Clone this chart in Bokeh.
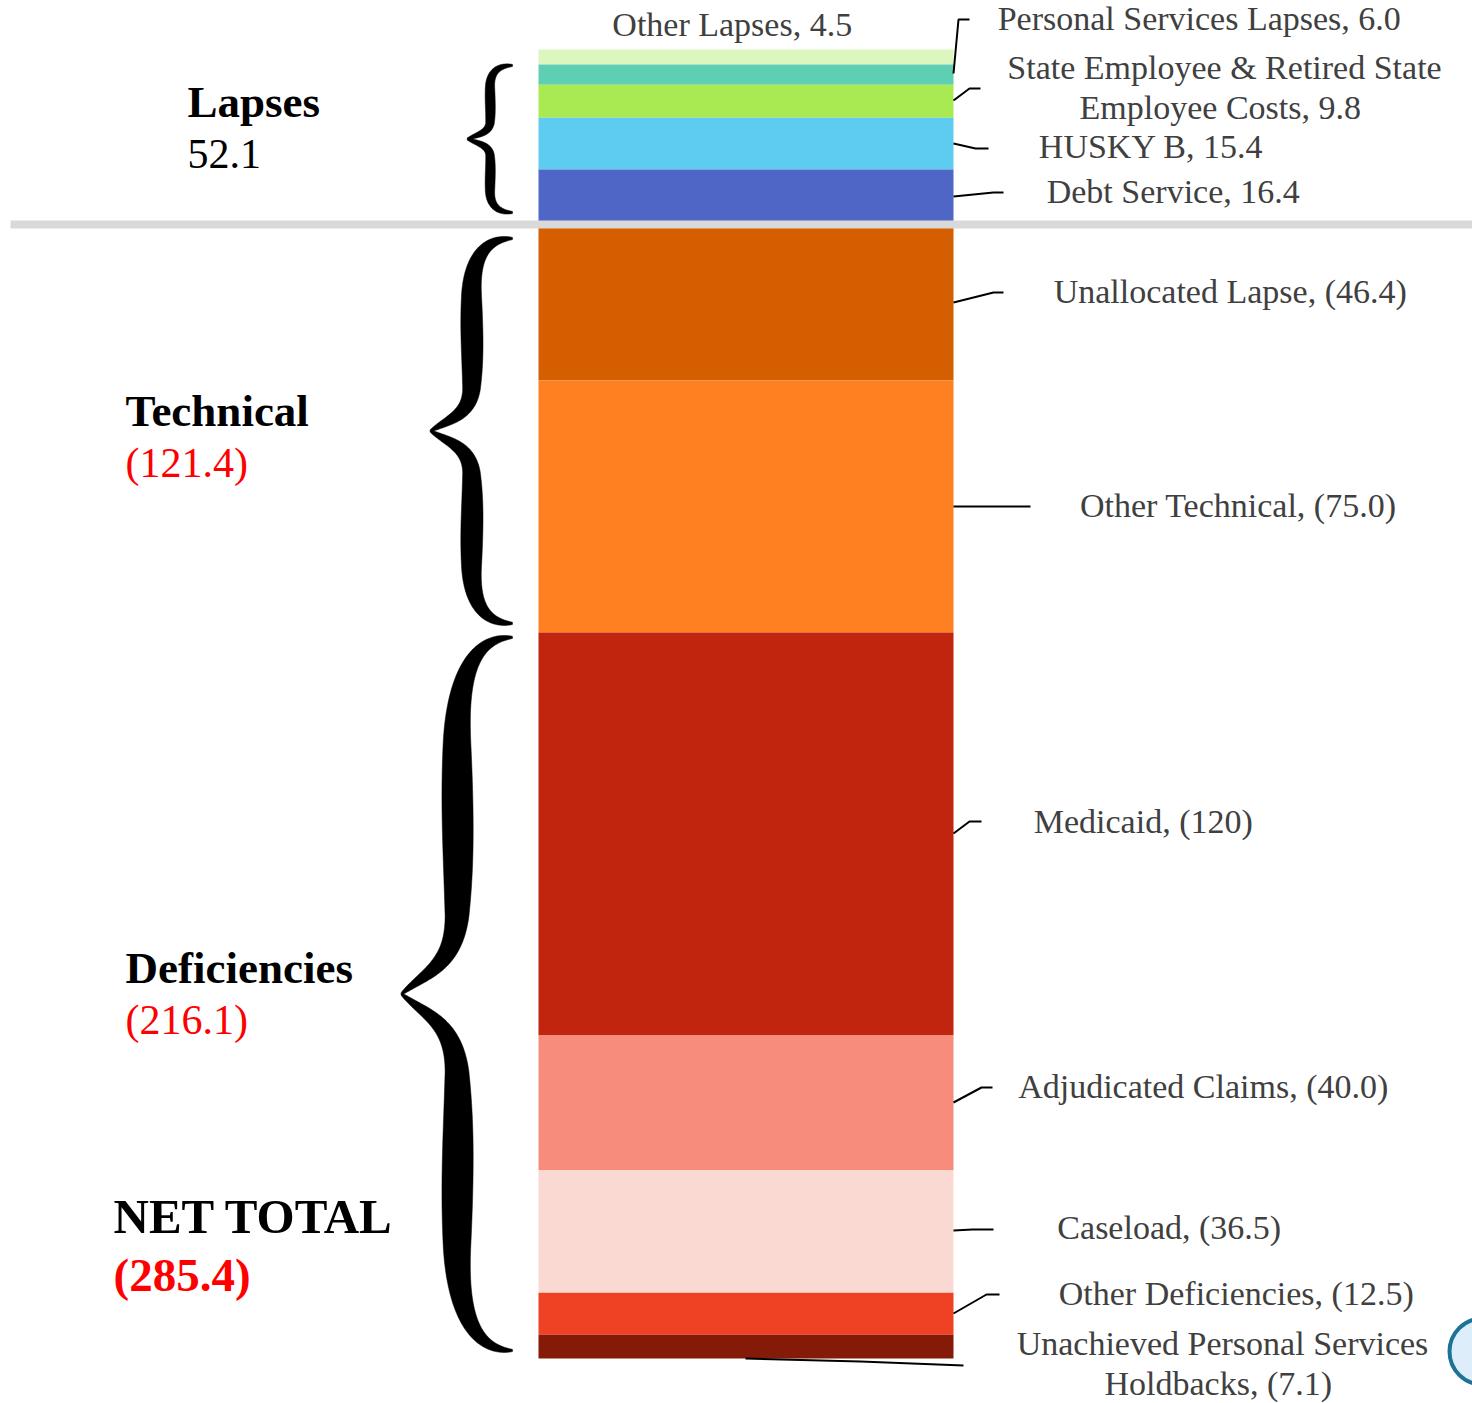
import numpy as np
from bokeh.plotting import figure
from bokeh.models import Range1d, ColumnDataSource
from bokeh.core.properties import value
from bokeh.embed import file_html
from bokeh.resources import INLINE

# ---------------- data ----------------
categories = ["Other Lapses", "Personal Services Lapses",
              "State Employee & Retired State\nEmployee Costs", "HUSKY B", "Debt Service",
              "Unallocated Lapse", "Other Technical",
              "Medicaid", "Adjudicated Claims", "Caseload", "Other Deficiencies",
              "Unachieved Personal Services\nHoldbacks"]
values = [4.5, 6.0, 9.8, 15.4, 16.4, -46.4, -75.0, -120.0, -40.0, -36.5, -12.5, -7.1]
value_labels = ["4.5", "6.0", "9.8", "15.4", "16.4", "(46.4)", "(75.0)", "(120)",
                "(40.0)", "(36.5)", "(12.5)", "(7.1)"]
groups = ["Lapses"] * 5 + ["Technical"] * 2 + ["Deficiencies"] * 5
group_names = ["Lapses", "Technical", "Deficiencies"]
group_value_labels = ["52.1", "(121.4)", "(216.1)"]
net_total_name = "NET TOTAL"
net_total_label = "(285.4)"

# ---------------- styles / layout ----------------
colors = ["#dbf6be", "#5ecfb2", "#a9ea52", "#5ecbf0", "#4f66c7",
          "#d55e00", "#fe8020",
          "#c2250e", "#f78c7c", "#fbd9d3", "#ef4124", "#861a08"]

SCALE = 3.36      # reference px per unit
Y0 = 224.0        # reference px of the zero line
W_IMG, H_IMG = 1472, 1403
PW, PH = 1472, 1403
BASE_K = 0.35     # baseline correction (fraction of font size)

def iy(py):
    return (Y0 - np.asarray(py, dtype=float)) / SCALE

def ty_(py, fs):
    return float(iy(py - BASE_K * fs))

BAR_L, BAR_R = 538, 953
FONT = value("Liberation Serif")

p = figure(width=PW, height=PH, x_range=Range1d(0, W_IMG),
           y_range=Range1d(iy(H_IMG), iy(0)),
           output_backend="svg", toolbar_location=None, min_border=0,
           x_axis_location=None, y_axis_location=None)
p.grid.visible = False
p.outline_line_color = None
p.background_fill_color = "white"
p.border_fill_color = "white"

# ---------------- stacked bar ----------------
bottoms, tops = [0.0] * len(values), [0.0] * len(values)
cum = 0.0
for i in reversed([i for i, v in enumerate(values) if v > 0]):
    bottoms[i] = cum
    tops[i] = cum + values[i]
    cum += values[i]
cum = 0.0
for i in [i for i, v in enumerate(values) if v < 0]:
    tops[i] = cum
    bottoms[i] = cum + values[i]
    cum += values[i]

bar_src = ColumnDataSource(dict(left=[BAR_L] * len(values), right=[BAR_R] * len(values),
                                bottom=bottoms, top=tops, color=colors))
p.quad(left="left", right="right", bottom="bottom", top="top", fill_color="color",
       line_color=None, source=bar_src)

# divider at zero
p.segment(x0=[10], x1=[W_IMG], y0=[0], y1=[0], line_width=8, line_color="#d9d9d9")

# ---------------- right labels ----------------
RFS = 34
label_x = [736, 1203, 1224, 1155, 1177, 1234, 1242, 1147, 1207, 1173, 1240, 1222]
label_y = [36, 30, 79, 158, 203, 303, 517, 833, 1098, 1239, 1305, 1355]
LINE_GAP = 40
tx, tyy, tt = [], [], []
for cat, vl, x, y in zip(categories, value_labels, label_x, label_y):
    lines = (cat + ",  " + vl).split("\n")
    for k, ln in enumerate(lines):
        tx.append(x)
        tyy.append(ty_(y + k * LINE_GAP, RFS))
        tt.append(ln)
p.text(x="x", y="y", text="text", source=ColumnDataSource(dict(x=tx, y=tyy, text=tt)),
       text_font=FONT, text_font_size=value(f"{RFS}px"), text_align="center",
       text_baseline="alphabetic", text_color="#404040")

# leader lines (reference px)
leaders = [
    None,
    [(953, 73), (958, 19), (969, 19)],
    [(953, 100), (969, 88), (980, 88)],
    [(953, 143), (975, 148), (988, 148)],
    [(953, 196), (993, 192), (1003, 192)],
    [(953, 302), (993, 292), (1003, 292)],
    [(953, 506), (1000, 506), (1030, 506)],
    [(953, 833), (969, 821), (981, 821)],
    [(953, 1102), (981, 1087), (992, 1087)],
    [(953, 1230), (972, 1229), (993, 1229)],
    [(953, 1313), (986, 1294), (999, 1294)],
    [(745, 1358), (860, 1361), (963, 1365)],
]
lxs, lys = [], []
for ld in leaders:
    if ld is None:
        continue
    lxs.append([q[0] for q in ld])
    lys.append([float(iy(q[1])) for q in ld])
p.multi_line(xs=lxs, ys=lys, line_color="black", line_width=2)

# ---------------- group labels ----------------
NFS, VFS, TFS, TVFS = 45, 42, 49, 47
name_pos = [(187, 117), (125, 426), (125, 983)]
val_pos = [(187, 168), (125, 477), (125, 1034)]
val_colors = ["black", "#ff0000", "#ff0000"]
p.text(x=[q[0] for q in name_pos], y=[ty_(q[1], NFS) for q in name_pos], text=group_names,
       text_font=FONT, text_font_size=value(f"{NFS}px"), text_font_style="bold",
       text_color="black", text_baseline="alphabetic", text_align="left")
p.text(x=[q[0] for q in val_pos], y=[ty_(q[1], VFS) for q in val_pos], text=group_value_labels,
       text_font=FONT, text_font_size=value(f"{VFS}px"), text_color=val_colors,
       text_baseline="alphabetic", text_align="left")
p.text(x=[113], y=[ty_(1233, TFS)], text=[net_total_name], text_font=FONT,
       text_font_size=value(f"{TFS}px"), text_font_style="bold", text_color="black",
       text_baseline="alphabetic", text_align="left")
p.text(x=[113], y=[ty_(1291, TVFS)], text=[net_total_label], text_font=FONT,
       text_font_size=value(f"{TVFS}px"), text_font_style="bold", text_color="#ff0000",
       text_baseline="alphabetic", text_align="left")

# ---------------- braces ----------------
def bez(c, n=70):
    c = np.asarray(c, dtype=float)
    t = np.linspace(0, 1, n)[:, None]
    return ((1 - t) ** 3 * c[0] + 3 * (1 - t) ** 2 * t * c[1]
            + 3 * (1 - t) * t ** 2 * c[2] + t ** 3 * c[3])

SEGS = [[(1, 0), (0.72, 0.0), (0.5, 0.07), (0.5, 0.3)],
        [(0.5, 0.3), (0.5, 0.5), (0.52, 0.62), (0.5, 0.78)],
        [(0.5, 0.78), (0.47, 0.92), (0.22, 0.94), (0, 1)]]
norm_half = np.vstack([bez(SEGS[0]), bez(SEGS[1])[1:], bez(SEGS[2])[1:]])

def brace_halves(xl, xr, yt, yb, tmax, tmin=2.0):
    W = xr - xl
    H = (yb - yt) / 2.0
    out = []
    for sign, base in ((1, yt), (-1, yb)):
        cx = xl + norm_half[:, 0] * W
        cy = base + sign * norm_half[:, 1] * H
        d = np.hypot(np.diff(cx), np.diff(cy))
        s = np.concatenate([[0], np.cumsum(d)])
        u = s / s[-1]
        h = tmin + (tmax - tmin) * np.sin(np.pi * u) ** 0.8
        gx, gy = np.gradient(cx), np.gradient(cy)
        gn = np.hypot(gx, gy)
        nx, ny = -gy / gn, gx / gn
        px = np.concatenate([cx + nx * h / 2, (cx - nx * h / 2)[::-1]])
        py = np.concatenate([cy + ny * h / 2, (cy - ny * h / 2)[::-1]])
        out.append((px.tolist(), iy(py).tolist()))
    return out

# group extents from the stacked data
brace_left = [467, 430, 401]
brace_tmax = [10, 22, 31]
brace_inset = [(16, 12), (14, 9), (5, 8)]
bxs, bys = [], []
for g, xl, tm, (i_top, i_bot) in zip(group_names, brace_left, brace_tmax, brace_inset):
    idx = [i for i, gg in enumerate(groups) if gg == g]
    top_val = max(tops[i] for i in idx)
    bot_val = min(bottoms[i] for i in idx)
    yt = Y0 - top_val * SCALE + i_top
    yb = Y0 - bot_val * SCALE - i_bot
    for px, py in brace_halves(xl, 512, yt, yb, tm):
        bxs.append(px)
        bys.append(py)
p.patches(xs=bxs, ys=bys, fill_color="black", line_color="black", line_width=0.5)

# partial circle at the right edge
p.scatter(x=[1482], y=[float(iy(1351))], size=66, marker="circle",
          fill_color="#ddedf9", line_color="#1c7394", line_width=4)

open("out.html", "w").write(file_html(p, INLINE))
